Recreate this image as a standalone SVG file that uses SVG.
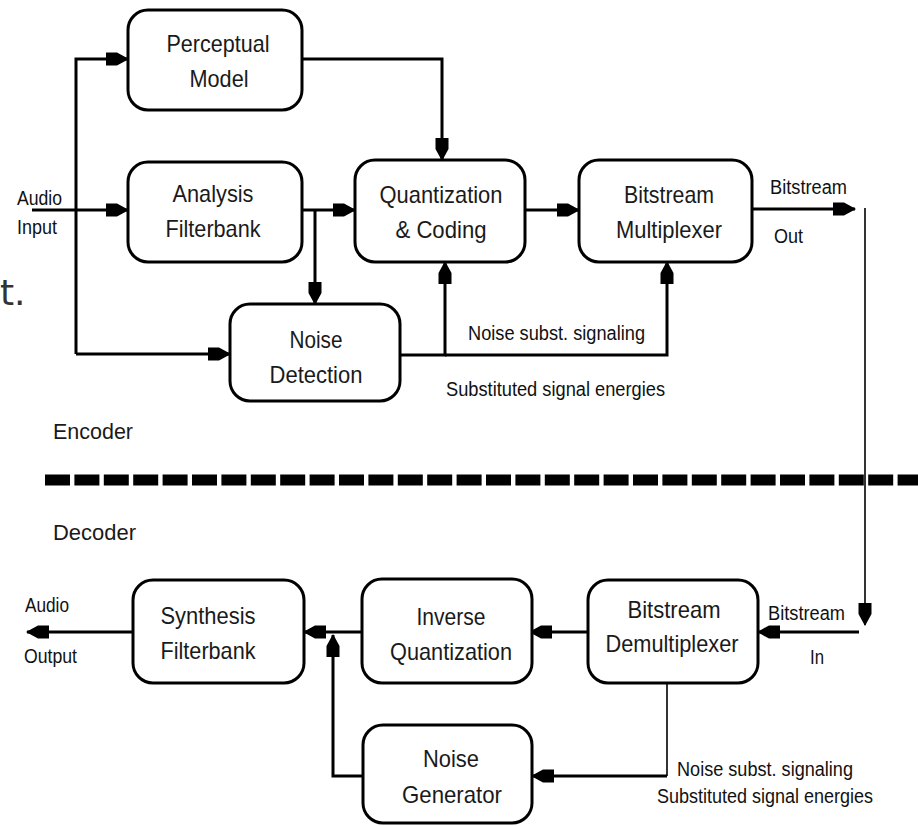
<svg xmlns="http://www.w3.org/2000/svg" width="918" height="826" viewBox="0 0 918 826">
<style>
.box{fill:#fff;stroke:#000;stroke-width:3}
.bt{font-family:"Liberation Sans",Arial,sans-serif;font-size:24px;fill:#1a1a1a;text-anchor:middle}
.lb{font-family:"Liberation Sans",Arial,sans-serif;font-size:19.5px;fill:#111}
.sec{font-family:"Liberation Sans",Arial,sans-serif;font-size:22px;fill:#1a1a1a}
.c{fill:none;stroke:#000;stroke-width:3}
.thin{fill:none;stroke:#000;stroke-width:1.6}
.a{marker-end:url(#arr)}
</style>
<defs>
<marker id="arr" markerUnits="userSpaceOnUse" orient="auto" refX="0" refY="0" markerWidth="30" markerHeight="20" viewBox="-24 -10 30 20" overflow="visible">
<path d="M1,0 L-11,-6.5 L-22,-6.5 L-22,6.5 L-11,6.5 Z" fill="#000"/>
</marker>
</defs>
<rect width="918" height="826" fill="#fff"/>
<text x="0" y="305" font-family="DejaVu Sans, sans-serif" font-size="36" fill="#333">t.</text>
<g id="connectors">
<path class="c a" d="M32,210 H128"/>
<path class="c a" d="M76,354 V59 H128"/>
<path class="c a" d="M76,354 H230"/>
<path class="c a" d="M302,210 H355"/>
<path class="c a" d="M315,210 V304"/>
<path class="c a" d="M302,59 H442 V160"/>
<path class="c a" d="M400,355 H445 V262"/>
<path class="c a" d="M445,355 H667 V262"/>
<path class="c a" d="M525,210 H579"/>
<path class="c a" d="M752,209 H855"/>
<path class="thin a" d="M865,208 V625"/>
<path class="c a" d="M859,632 H758"/>
<path class="c a" d="M588,632 H530"/>
<path class="c a" d="M362,632 H304"/>
<path class="c a" d="M133,632 H27"/>
<path class="c a" d="M362,776 H333 V635"/>
<path class="thin" d="M667,683 V776"/>
<path class="c a" d="M667,776 H532"/>
</g>
<path d="M45,480 H918" stroke="#000" stroke-width="11" stroke-dasharray="25 4.4" fill="none"/>
<g id="perceptual-model">
<rect class="box" x="128" y="10" width="174" height="100" rx="20"/>
<text class="bt" x="218" y="52" textLength="103" lengthAdjust="spacingAndGlyphs">Perceptual</text>
<text class="bt" x="219" y="87" textLength="59" lengthAdjust="spacingAndGlyphs">Model</text>
</g>
<g id="analysis-filterbank">
<rect class="box" x="128" y="162" width="174" height="100" rx="20"/>
<text class="bt" x="213" y="202" textLength="81" lengthAdjust="spacingAndGlyphs">Analysis</text>
<text class="bt" x="213" y="237" textLength="95" lengthAdjust="spacingAndGlyphs">Filterbank</text>
</g>
<g id="noise-detection">
<rect class="box" x="230" y="304" width="170" height="97" rx="20"/>
<text class="bt" x="316" y="348" textLength="53" lengthAdjust="spacingAndGlyphs">Noise</text>
<text class="bt" x="316" y="383" textLength="93" lengthAdjust="spacingAndGlyphs">Detection</text>
</g>
<g id="quantization-coding">
<rect class="box" x="355" y="160" width="170" height="102" rx="20"/>
<text class="bt" x="441" y="203" textLength="123" lengthAdjust="spacingAndGlyphs">Quantization</text>
<text class="bt" x="441" y="238" textLength="91" lengthAdjust="spacingAndGlyphs">&amp; Coding</text>
</g>
<g id="bitstream-multiplexer">
<rect class="box" x="579" y="160" width="173" height="102" rx="20"/>
<text class="bt" x="669" y="203" textLength="90" lengthAdjust="spacingAndGlyphs">Bitstream</text>
<text class="bt" x="669" y="238" textLength="106" lengthAdjust="spacingAndGlyphs">Multiplexer</text>
</g>
<g id="synthesis-filterbank">
<rect class="box" x="133" y="580" width="171" height="103" rx="20"/>
<text class="bt" x="208" y="624" textLength="95" lengthAdjust="spacingAndGlyphs">Synthesis</text>
<text class="bt" x="208" y="659" textLength="95" lengthAdjust="spacingAndGlyphs">Filterbank</text>
</g>
<g id="inverse-quantization">
<rect class="box" x="362" y="579" width="170" height="104" rx="20"/>
<text class="bt" x="451" y="625" textLength="69" lengthAdjust="spacingAndGlyphs">Inverse</text>
<text class="bt" x="451" y="660" textLength="122" lengthAdjust="spacingAndGlyphs">Quantization</text>
</g>
<g id="bitstream-demultiplexer">
<rect class="box" x="588" y="580" width="170" height="103" rx="20"/>
<text class="bt" x="674" y="618" textLength="93" lengthAdjust="spacingAndGlyphs">Bitstream</text>
<text class="bt" x="672" y="652" textLength="133" lengthAdjust="spacingAndGlyphs">Demultiplexer</text>
</g>
<g id="noise-generator">
<rect class="box" x="363" y="725" width="169" height="98" rx="20"/>
<text class="bt" x="451" y="767" textLength="56" lengthAdjust="spacingAndGlyphs">Noise</text>
<text class="bt" x="452" y="803" textLength="100" lengthAdjust="spacingAndGlyphs">Generator</text>
</g>
<g id="labels">
<text class="lb" x="17" y="205" textLength="45" lengthAdjust="spacingAndGlyphs">Audio</text>
<text class="lb" x="17" y="234" textLength="40" lengthAdjust="spacingAndGlyphs">Input</text>
<text class="lb" x="770" y="194" textLength="77" lengthAdjust="spacingAndGlyphs">Bitstream</text>
<text class="lb" x="774" y="243" textLength="29" lengthAdjust="spacingAndGlyphs">Out</text>
<text class="lb" x="468" y="340" textLength="177" lengthAdjust="spacingAndGlyphs">Noise subst. signaling</text>
<text class="lb" x="446" y="396" textLength="219" lengthAdjust="spacingAndGlyphs">Substituted signal energies</text>
<text class="sec" x="53" y="439" textLength="80" lengthAdjust="spacingAndGlyphs">Encoder</text>
<text class="sec" x="53" y="540" textLength="83" lengthAdjust="spacingAndGlyphs">Decoder</text>
<text class="lb" x="25" y="612" textLength="44" lengthAdjust="spacingAndGlyphs">Audio</text>
<text class="lb" x="24" y="663" textLength="53" lengthAdjust="spacingAndGlyphs">Output</text>
<text class="lb" x="768" y="620" textLength="77" lengthAdjust="spacingAndGlyphs">Bitstream</text>
<text class="lb" x="810" y="664" textLength="14" lengthAdjust="spacingAndGlyphs">In</text>
<text class="lb" x="677" y="776" textLength="176" lengthAdjust="spacingAndGlyphs">Noise subst. signaling</text>
<text class="lb" x="657" y="803" textLength="216" lengthAdjust="spacingAndGlyphs">Substituted signal energies</text>
</g>
</svg>
